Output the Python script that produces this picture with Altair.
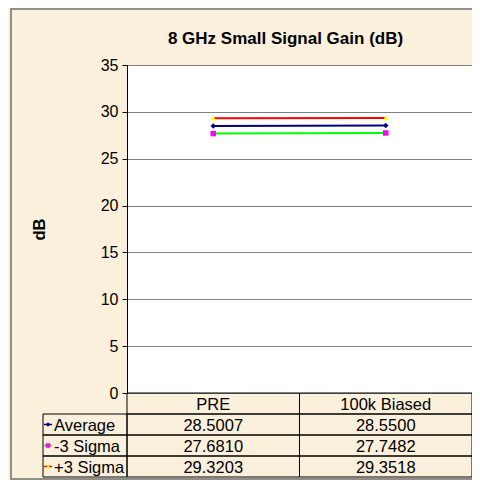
import altair as alt
import pandas as pd

# ---- data ----
categories = ["PRE", "100k Biased"]
series_names = ["Average", "-3 Sigma", "+3 Sigma"]
average = [28.5007, 28.5500]
minus_3_sigma = [27.6810, 27.7482]
plus_3_sigma = [29.3203, 29.3518]
y_ticks = [0, 5, 10, 15, 20, 25, 30, 35]

# ---- styles ----
line_colors = ["#000080", "#00FF00", "#FF0000"]
marker_colors = ["#000080", "#FF00FF", "#FFFF00"]
marker_shapes = ["diamond", "square", "triangle-up"]
FONT = "Liberation Sans"
BG = "#FBF0DB"
W, H = 345, 328
ROW_H = 21
rows = ["hdr"] + series_names

records = []
for name, vals in zip(series_names, [average, minus_3_sigma, plus_3_sigma]):
    for c, v in zip(categories, vals):
        records.append({"category": c, "series": name, "value": v,
                        "label": f"{v:.4f}", "row": name})
df = pd.DataFrame(records)
hdr = pd.DataFrame({"category": categories, "row": ["hdr"] * len(categories),
                    "label": categories})
cells = pd.concat([hdr, df[["category", "row", "label"]]], ignore_index=True)
labels_df = pd.DataFrame({"series": series_names, "row": series_names})
one = pd.DataFrame({"k": [0]})

x_scale = alt.Scale(type="band", domain=categories, paddingInner=0, paddingOuter=0)
x_center = alt.X("category:N", scale=x_scale, axis=None, bandPosition=0.5)
x_band = alt.X("category:N", scale=x_scale, axis=None)
row_scale = alt.Scale(type="band", domain=rows, range=[H, H + ROW_H * 4],
                      paddingInner=0, paddingOuter=0)
y_row = alt.Y("row:N", scale=row_scale, axis=None)
y_row_c = alt.Y("row:N", scale=row_scale, axis=None, bandPosition=0.5)
color_scale = alt.Scale(domain=series_names, range=line_colors)
fill_scale = alt.Scale(domain=series_names, range=marker_colors)
shape_scale = alt.Scale(domain=series_names, range=marker_shapes)
y_val_scale = alt.Scale(domain=[0, 35], nice=False, zero=True)

border = alt.Chart(one).mark_rect(fill="transparent", stroke="#6E6E6E", strokeWidth=1.5).encode(
    x=alt.value(-116), x2=alt.value(420), y=alt.value(-56), y2=alt.value(H + 86)
)

lines = alt.Chart(df).mark_line(strokeWidth=2).encode(
    x=x_center,
    y=alt.Y("value:Q", scale=y_val_scale,
            axis=alt.Axis(values=y_ticks, title="dB", titleX=-88, titleY=H / 2,
                          titleAngle=270, titleAlign="center", titleBaseline="middle")),
    color=alt.Color("series:N", scale=color_scale, legend=None),
    detail="series:N",
)

points = alt.Chart(df).mark_point(filled=True, size=30, strokeWidth=0, opacity=1).encode(
    x=x_center,
    y=alt.Y("value:Q", scale=y_val_scale, axis=None),
    fill=alt.Fill("series:N", scale=fill_scale, legend=None),
    shape=alt.Shape("series:N", scale=shape_scale, legend=None),
)

cell_rects = alt.Chart(cells).mark_rect(fill="transparent", stroke="black", strokeWidth=1).encode(
    x=x_band, y=y_row
)

cell_text = alt.Chart(cells).mark_text(font=FONT, fontSize=16.5, color="black",
                                       baseline="middle", align="center", dy=1).encode(
    x=x_center, y=y_row_c, text="label:N"
)

label_rects = alt.Chart(labels_df).mark_rect(fill="transparent", stroke="black", strokeWidth=1).encode(
    x=alt.value(-84), x2=alt.value(0), y=y_row
)

label_text = alt.Chart(labels_df).mark_text(font=FONT, fontSize=16.5, color="black",
                                            baseline="middle", align="left", dy=1).encode(
    x=alt.value(-73), y=y_row_c, text="series:N"
)

sym_lines = alt.Chart(labels_df).mark_rule(strokeWidth=1.5).encode(
    x=alt.value(-83), x2=alt.value(-75), y=y_row_c,
    color=alt.Color("series:N", scale=color_scale, legend=None),
)

sym_points = alt.Chart(labels_df).mark_point(filled=True, size=20, strokeWidth=0, opacity=1).encode(
    x=alt.value(-79), y=y_row_c,
    fill=alt.Fill("series:N", scale=fill_scale, legend=None),
    shape=alt.Shape("series:N", scale=shape_scale, legend=None),
)

chart = alt.layer(
    border, lines, points, cell_rects, cell_text, label_rects, label_text, sym_lines, sym_points
).resolve_scale(y="independent").properties(
    width=W, height=H,
    title=alt.TitleParams("8 GHz Small Signal Gain (dB)", font=FONT, fontSize=17,
                          fontWeight="bold", color="black", anchor="middle", dx=-14,
                          offset=-40),
    autosize=alt.AutoSizeParams(type="none"),
    padding={"left": 119, "top": 57, "right": 0, "bottom": 87},
).configure(background=BG).configure_view(
    fill="white", stroke="#808080", strokeWidth=1
).configure_axis(
    labelFont=FONT, labelFontSize=16, labelColor="black", labelPadding=4,
    tickColor="black", tickSize=5, domainColor="black",
    gridColor="#808080", gridWidth=1,
    titleFont=FONT, titleFontSize=16.5, titleFontWeight="bold", titleColor="black",
)

chart.save("out.html", embed_options={"renderer": "svg", "actions": False})
